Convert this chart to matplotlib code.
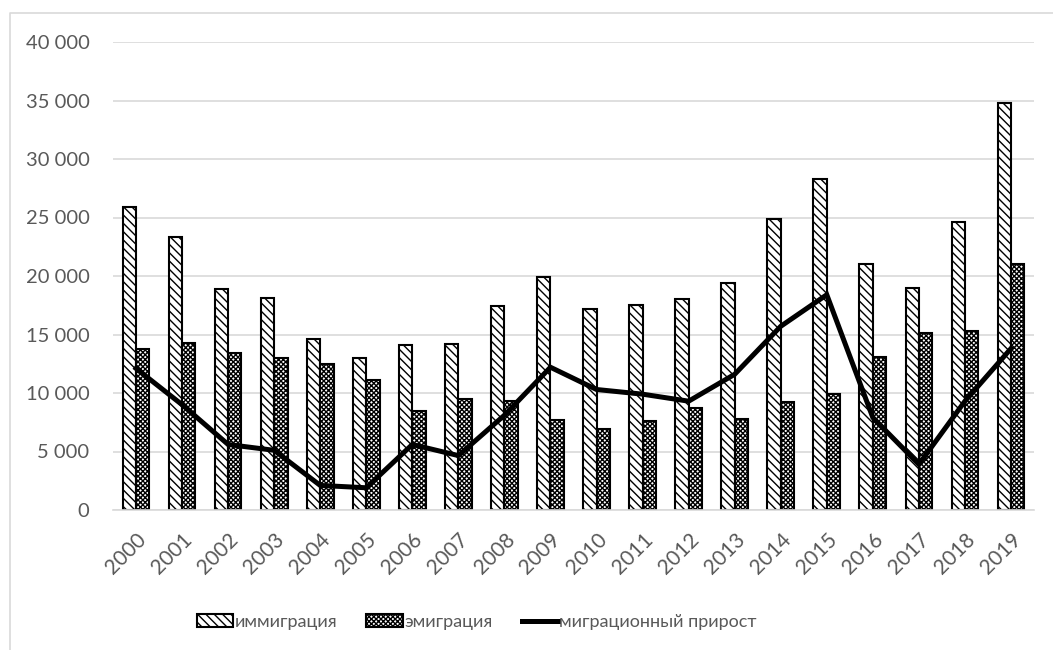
import matplotlib
matplotlib.use("Agg")
import matplotlib.pyplot as plt
from matplotlib.ticker import FuncFormatter, MultipleLocator
from matplotlib.lines import Line2D
import numpy as np

years = [str(y) for y in range(2000, 2020)]
immigration = [25900, 23300, 18900, 18100, 14600, 13000, 14100, 14150, 17400, 19900,
               17200, 17500, 18000, 19400, 24900, 28300, 21000, 19000, 24600, 34800]
emigration = [13800, 14300, 13400, 13000, 12500, 11100, 8500, 9500, 9300, 7700,
              6900, 7600, 8700, 7800, 9200, 9900, 13100, 15100, 15300, 21000]
net_growth = [12100, 9000, 5600, 5100, 2100, 1900, 5600, 4650, 8100, 12200,
              10300, 9900, 9300, 11600, 15700, 18400, 7900, 3900, 9300, 13800]

labels = ["иммиграция", "эмиграция", "миграционный прирост"]

plt.rcParams['font.family'] = ['Lato', 'DejaVu Sans']
plt.rcParams['hatch.linewidth'] = 1.0

W, H = 1053, 650
fig = plt.figure(figsize=(W / 100, H / 100), dpi=100)
ax = fig.add_axes([113 / W, 1 - 510 / H, 921 / W, 468 / H])

x = np.arange(len(years))
bw = 0.29
b1 = ax.bar(x - bw / 2, immigration, width=bw, facecolor='white', edgecolor='black',
            hatch='\\\\\\\\', linewidth=1.5, label=labels[0], zorder=2)
b2 = ax.bar(x + bw / 2, emigration, width=bw, facecolor='white', edgecolor='black',
            hatch='xxxxxxx', linewidth=1.5, label=labels[1], zorder=2)
l1, = ax.plot(x, net_growth, color='black', linewidth=3.6, label=labels[2], zorder=3,
              solid_joinstyle='miter')

ax.set_xlim(-0.5, len(years) - 0.5)
ax.set_ylim(0, 40000)
ax.yaxis.set_major_locator(MultipleLocator(5000))
ax.yaxis.set_major_formatter(FuncFormatter(lambda v, p: f"{int(v):,}".replace(",", " ")))
ax.grid(axis='y', color='#d9d9d9', linewidth=1.2, zorder=0)
ax.set_axisbelow(True)
for s in ['top', 'right', 'left']:
    ax.spines[s].set_visible(False)
ax.spines['bottom'].set_color('#d9d9d9')
ax.spines['bottom'].set_linewidth(1.2)

ax.set_xticks(x)
ax.set_xticklabels(years, rotation=45, ha='right', rotation_mode='anchor')
ax.tick_params(axis='x', length=0, pad=14, labelsize=15, labelcolor='#595959')
ax.tick_params(axis='y', length=0, pad=17, labelsize=14.5, labelcolor='#595959')

leg = fig.legend([b1, b2, l1], labels, loc='center',
                 bbox_to_anchor=(477 / W, 1 - 622 / H), ncol=3,
                 frameon=False, fontsize=13, handlelength=2.0, handleheight=0.7,
                 handletextpad=0.1, columnspacing=1.6)
for t in leg.get_texts():
    t.set_color('#595959')

# chart area border
fig.add_artist(Line2D([10 / W, 10 / W, 1.0], [0.0, 1 - 13 / H, 1 - 13 / H],
                      transform=fig.transFigure, color='#d9d9d9', linewidth=1.2))

fig.savefig('out.png', dpi=100)
